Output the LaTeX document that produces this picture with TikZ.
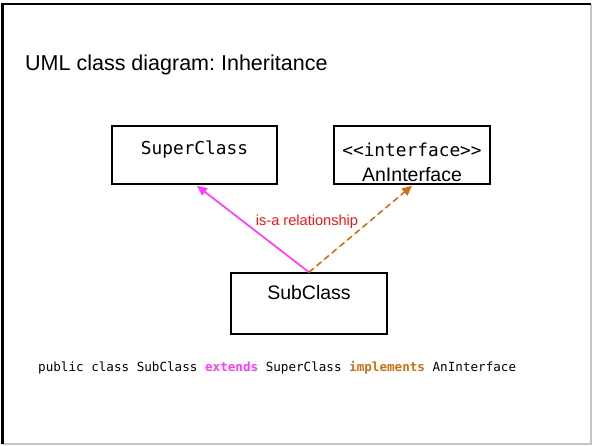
\documentclass[tikz,border=0pt]{standalone}
\usepackage{fontspec}
\setmainfont{Liberation Sans}
\setmonofont{DejaVu Sans Mono}
\usetikzlibrary{arrows.meta}
\frenchspacing
\definecolor{extcol}{RGB}{255,60,255}
\definecolor{implcol}{RGB}{204,112,20}
\definecolor{labelred}{RGB}{250,20,20}
\tikzset{
  classbox/.style={draw=black, line width=1.5pt, inner sep=0pt},
  monotext/.style={font=\ttfamily\fontsize{17.8}{20}\selectfont, inner sep=0pt},
  sanstext/.style={font=\fontsize{19.5}{22}\selectfont, inner sep=0pt},
  tip/.style={-{Triangle[length=10pt,width=9pt]}},
  extendsline/.style={tip, draw=extcol, fill=extcol, line width=1.7pt},
  implementsline/.style={tip, draw=implcol, fill=implcol, line width=1.6pt, dash pattern=on 6pt off 4pt}
}
\begin{document}
\begin{tikzpicture}[x=1pt,y=-1pt]
  \useasboundingbox (0,0) rectangle (592,446);
  % slide frame
  \draw[gray!45, line width=1.2pt] (591,4) -- (591,444) -- (2.5,444);
  \draw[black, line width=2.5pt] (2.5,444) -- (2.5,4) -- (591,4);

  % title
  \node[anchor=west, inner sep=0pt, font=\fontsize{21.5}{24}\selectfont] (title) at (25,65) {UML class diagram: Inheritance};

  % class boxes
  \node[classbox, minimum width=165pt, minimum height=58pt] (super) at (194.5,155) {};
  \node[classbox, minimum width=156pt, minimum height=58pt] (iface) at (412,155) {};
  \node[classbox, minimum width=156pt, minimum height=61pt] (sub) at (309,303.5) {};

  \node[monotext] (supername) at (194.5,150) {SuperClass};
  \node[monotext] (stereo) at (412,150) {<<interface>>};
  \node[sanstext] (ifacename) at (412,175) {AnInterface};
  \node[sanstext] (subname) at (309,293) {SubClass};

  % relationships
  \draw[extendsline] (sub.north) -- ([xshift=2.5pt,yshift=-1pt]super.south);
  \draw[implementsline] (sub.north) -- ([yshift=-1pt]iface.south);
  \node[text=labelred, inner sep=0pt, font=\fontsize{14.6}{17}\selectfont] (isa) at (307,222) {is-a relationship};

  % Java declaration
  \node[inner sep=0pt, anchor=west, font=\ttfamily\fontsize{12.6}{15}\selectfont] (code) at (38,368)
    {public class SubClass \textcolor{extcol}{\textbf{extends}} SuperClass \textcolor{implcol}{\textbf{implements}} AnInterface};
\end{tikzpicture}
\end{document}
